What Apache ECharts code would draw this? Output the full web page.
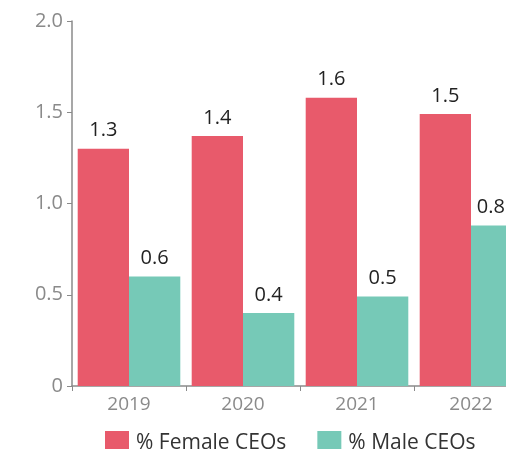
<!DOCTYPE html>
<html>
<head>
<meta charset="utf-8">
<script src="https://cdn.jsdelivr.net/npm/echarts@6/dist/echarts.min.js"></script>
<style>
  html, body { margin: 0; padding: 0; background: #ffffff; overflow: hidden; }
  /* the original chart is cropped on the right, so the canvas runs past the window */
  #chart { width: 528px; height: 449px; }
</style>
</head>
<body>
<div id="chart"></div>
<script>
const years = ['2019', '2020', '2021', '2022']
const femaleValues = [1.30, 1.37, 1.58, 1.49]
const maleValues = [0.60, 0.40, 0.49, 0.88]
const femaleLabels = ['1.3', '1.4', '1.6', '1.5']
const maleLabels = ['0.6', '0.4', '0.5', '0.88']

const FEMALE_COLOR = '#e85a6b'
const MALE_COLOR = '#76c9b7'
const AXIS_COLOR = '#8a8a8a'
const FONT = '"Open Sans", sans-serif'

const chart = echarts.init(document.getElementById('chart'))

const valueLabel = texts => ({
  show: true,
  position: 'top',
  distance: 8,
  color: '#222222',
  fontSize: 20,
  fontFamily: FONT,
  formatter: p => texts[p.dataIndex]
})

chart.setOption({
  animation: false,
  grid: { left: 72, right: 0, top: 21, bottom: 63 },
  legend: {
    top: 426,
    left: 100,
    itemWidth: 24,
    itemHeight: 24,
    itemGap: 31,
    icon: 'rect',
    textStyle: { color: '#333333', fontSize: 21, lineHeight: 24, fontFamily: FONT, padding: [0, 0, 0, 2] },
    data: ['% Female CEOs', '% Male CEOs']
  },
  xAxis: {
    type: 'category',
    data: years,
    axisLine: { lineStyle: { color: AXIS_COLOR, width: 1.5 } },
    axisTick: { show: true, length: 5, lineStyle: { color: AXIS_COLOR } },
    axisLabel: { color: AXIS_COLOR, fontSize: 19, fontFamily: FONT, margin: 9 }
  },
  yAxis: {
    type: 'value',
    min: 0,
    max: 2,
    interval: 0.5,
    axisLine: { show: true, lineStyle: { color: AXIS_COLOR, width: 1.5 } },
    axisTick: { show: true, length: 5, lineStyle: { color: AXIS_COLOR } },
    splitLine: { show: false },
    axisLabel: {
      color: AXIS_COLOR,
      fontSize: 20,
      fontFamily: FONT,
      margin: 9,
      formatter: v => (v === 0 ? '0' : v.toFixed(1))
    }
  },
  series: [
    {
      name: '% Female CEOs',
      type: 'bar',
      data: femaleValues,
      barGap: '0%',
      barCategoryGap: '10%',
      itemStyle: { color: FEMALE_COLOR },
      label: valueLabel(femaleLabels)
    },
    {
      name: '% Male CEOs',
      type: 'bar',
      data: maleValues,
      barGap: '0%',
      barCategoryGap: '10%',
      itemStyle: { color: MALE_COLOR },
      label: valueLabel(maleLabels)
    }
  ]
})
</script>
</body>
</html>
